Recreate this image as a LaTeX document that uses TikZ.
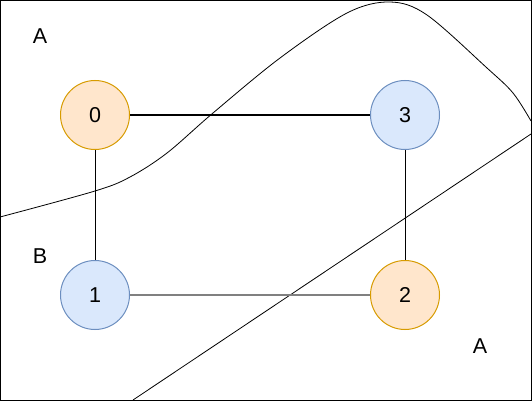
\documentclass[tikz,border=0pt]{standalone}
\usepackage{fontspec}
\setmainfont{Liberation Sans}
\definecolor{orangefill}{HTML}{FFE6CC}
\definecolor{orangeline}{HTML}{D79B00}
\definecolor{bluefill}{HTML}{DAE8FC}
\definecolor{blueline}{HTML}{6C8EBF}
\tikzset{
  vtx/.style={circle,minimum size=69pt,inner sep=0pt,line width=1pt,font=\fontsize{21.5}{26}\selectfont},
  orangevtx/.style={vtx,draw=orangeline,fill=orangefill},
  bluevtx/.style={vtx,draw=blueline,fill=bluefill},
  region/.style={font=\fontsize{21.5}{26}\selectfont}
}
\begin{document}
\begin{tikzpicture}[x=1pt,y=-1pt,line width=1pt]
   \useasboundingbox (0,0) rectangle (532,401);
   % 枠
   \draw (0.5,0.5) rectangle (531,400);

   % 境界線
   \draw[line width=0.8pt] plot[smooth,tension=0.55] coordinates {
     (0,217) (95,191) (130,177) (167,153) (213,113) (280,58)
     (347,13) (390,2) (427,15) (487,68) (513,93) (531,121)};
   \coordinate (lineS) at (133,400);
   \coordinate (lineE) at (531,134);
   \draw[line width=0.8pt] (lineS) -- (lineE);

   % 頂点
   \node[orangevtx] (v0) at (95,115) {0};
   \node[bluevtx]   (v3) at (405,115) {3};
   \node[bluevtx]   (v1) at (95,295) {1};
   \node[orangevtx] (v2) at (405,295) {2};

   % 辺
   \draw (v0) -- (v3);
   \draw (v0) -- (v1);
   \draw (v3) -- (v2);
   \draw[gray,line width=1.3pt] (v1) -- (v2);

   % 領域
   \node[region] (rA1) at (40,36) {A};
   \node[region] (rB)  at (40,256) {B};
   \node[region] (rA2) at (480,346) {A};
\end{tikzpicture}
\end{document}
